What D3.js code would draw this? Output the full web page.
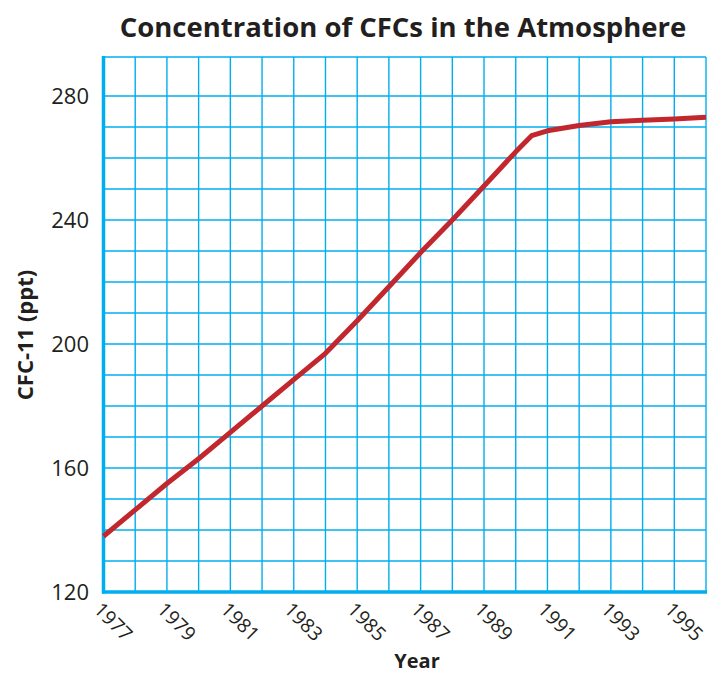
<!DOCTYPE html>
<html><head><meta charset="utf-8">
<script src="https://cdn.jsdelivr.net/npm/d3@7"></script>
<style>body{margin:0;background:#fff;} svg{display:block;}</style>
</head><body>
<div id="chart"></div>
<script>
const years = [1977,1978,1979,1980,1981,1982,1983,1984,1985,1986,1987,1988,1989,1990,1990.5,1991,1992,1993,1994,1995,1996];
const cfc11 = [138,146.5,155,163,171.5,180,188.5,197,207.5,218.5,229.5,240,251,262,267.2,268.8,270.5,271.7,272.2,272.6,273.2];
const yTicks = [120,160,200,240,280];
const xTickLabels = [1977,1979,1981,1983,1985,1987,1989,1991,1993,1995];

(function(){
const W = 710, H = 675;
const pLeft = 103.5, pRight = 706, pTop = 57, pBottom = 592;
const svg = d3.select("#chart").append("svg").attr("width", W).attr("height", H);
const font = "'Open Sans', 'Noto Sans', sans-serif";

const x = d3.scaleLinear().domain([1977,1996]).range([pLeft,pRight]);
const y = d3.scaleLinear().domain([120,292.6]).range([pBottom,pTop]);
const blue = "#00aeef";

// grid
const g = svg.append("g");
g.selectAll("line.v").data(d3.range(1978,1997)).join("line")
  .attr("x1", d=>x(d)).attr("x2", d=>x(d)).attr("y1", pTop).attr("y2", pBottom)
  .attr("stroke", blue).attr("stroke-width", 1.4);
g.selectAll("line.h").data(d3.range(130,281,10).concat([292.6])).join("line")
  .attr("x1", pLeft).attr("x2", pRight).attr("y1", d=>y(d)).attr("y2", d=>y(d))
  .attr("stroke", blue).attr("stroke-width", 1.4);

// axes lines
svg.append("line").attr("x1", pLeft).attr("x2", pLeft).attr("y1", pTop-1).attr("y2", pBottom+1.5)
  .attr("stroke", blue).attr("stroke-width", 3.5);
svg.append("line").attr("x1", pLeft-1.5).attr("x2", pRight+1).attr("y1", pBottom).attr("y2", pBottom)
  .attr("stroke", blue).attr("stroke-width", 3.5);

// y ticks
svg.selectAll("text.yt").data(yTicks).join("text")
  .attr("x", 89).attr("y", d=>y(d)).attr("dy", "0.36em").attr("text-anchor","end")
  .attr("font-family", font).attr("font-size", 22).attr("fill", "#231f20").text(d=>d);

// x ticks
svg.selectAll("text.xt").data(xTickLabels).join("text")
  .attr("transform", d=>`translate(${x(d)-6},${pBottom+14}) rotate(45)`)
  .attr("text-anchor","start").attr("dy","0.35em")
  .attr("font-family", font).attr("font-size", 19.5).attr("fill", "#231f20").text(d=>d);

// line
const data = years.map((yr,i)=>({yr, v:cfc11[i]}));
svg.append("path").datum(data)
  .attr("d", d3.line().x(d=>x(d.yr)).y(d=>y(d.v)))
  .attr("fill","none").attr("stroke","#c1272d").attr("stroke-width",5).attr("stroke-linejoin","round");

// titles
svg.append("text").attr("x", 403).attr("y", 37).attr("text-anchor","middle")
  .attr("font-family", font).attr("font-weight","bold").attr("font-size", 27.5).attr("fill","#231f20")
  .text("Concentration of CFCs in the Atmosphere");
svg.append("text").attr("transform","translate(33,335) rotate(-90)").attr("text-anchor","middle")
  .attr("font-family", font).attr("font-weight","bold").attr("font-size", 22).attr("fill","#231f20")
  .text("CFC-11 (ppt)");
svg.append("text").attr("x", 417).attr("y", 668).attr("text-anchor","middle")
  .attr("font-family", font).attr("font-weight","bold").attr("font-size", 20).attr("fill","#231f20")
  .text("Year");
})();
</script>
</body></html>
